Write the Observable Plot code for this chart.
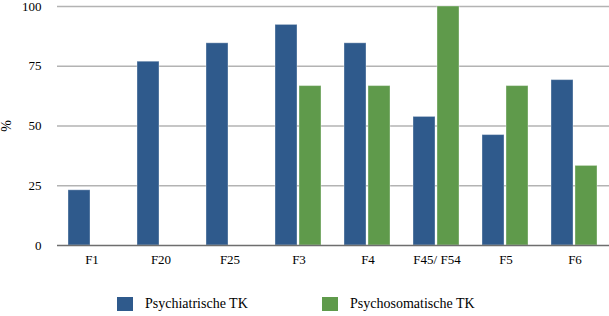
<!DOCTYPE html>
<html><head><meta charset="utf-8">
<script src="https://cdn.jsdelivr.net/npm/d3@7"></script>
<script src="https://cdn.jsdelivr.net/npm/@observablehq/plot@0.6"></script>
<style>
body{margin:0;background:#fff;font-family:"Liberation Serif",serif;}
#wrap{position:relative;width:609px;height:316px;}
#wrap svg text{font-family:"Liberation Serif",serif !important;font-size:13px !important;fill:#000;}
.leg{position:absolute;top:296px;font-size:14px;color:#000;display:flex;align-items:center;}
.sw{width:16px;height:14px;display:inline-block;margin-right:12px;}
.ylab{position:absolute;left:-1px;top:118px;width:16px;height:16px;line-height:16px;text-align:center;font-size:14px;transform:rotate(-90deg);transform-origin:center;color:#000;}
</style></head>
<body><div id="wrap"></div>
<script>
const categories = ["F1","F20","F25","F3","F4","F45/ F54","F5","F6"];
const seriesNames = ["Psychiatrische TK","Psychosomatische TK"];
const psychiatrisch = [23.1, 76.9, 84.6, 92.3, 84.6, 53.8, 46.2, 69.2];
const psychosomatisch = [0, 0, 0, 66.7, 66.7, 100, 66.7, 33.3];
const yTicks = [0,25,50,75,100];
const yLabel = "%";
const colors = ["#2f5a8c","#5f9a4b"];

const data = [];
categories.forEach((c,i)=>{
  data.push({cat:c, series:seriesNames[0], value:psychiatrisch[i]});
  data.push({cat:c, series:seriesNames[1], value:psychosomatisch[i]});
});

const chart = Plot.plot({
  width:609, height:270,
  marginTop:6, marginBottom:25, marginLeft:56, marginRight:0,
  style:{fontFamily:"Liberation Serif, serif", fontSize:"13px", color:"#000"},
  fx:{domain:categories, padding:0, axis:"bottom", label:null, tickSize:0, tickPadding:9},
  x:{domain:seriesNames, axis:null, paddingInner:0.0833, paddingOuter:0.479},
  y:{domain:[0,100], ticks:yTicks, tickSize:0, tickPadding:16, label:null},
  color:{domain:seriesNames, range:colors},
  marks:[
    Plot.ruleY(yTicks.filter(d=>d>0), {stroke:"#b3b3b3", strokeWidth:1.3}),
    Plot.barY(data.filter(d=>d.value>0), {fx:"cat", x:"series", y:"value", fill:"series", stroke:"#ffffff", strokeOpacity:0.35, strokeWidth:1}),
    Plot.ruleY([0], {stroke:"#6e6e6e", strokeWidth:1.5})
  ]
});
const wrap = document.getElementById("wrap");
wrap.appendChild(chart);
const yl = document.createElement("div");
yl.className="ylab"; yl.textContent=yLabel;
wrap.appendChild(yl);
const legX = [117, 322];
seriesNames.forEach((s,i)=>{
  const d = document.createElement("div");
  d.className="leg"; d.style.left=legX[i]+"px";
  d.innerHTML = `<span class="sw" style="background:${colors[i]}"></span>${s}`;
  wrap.appendChild(d);
});
</script></body></html>
